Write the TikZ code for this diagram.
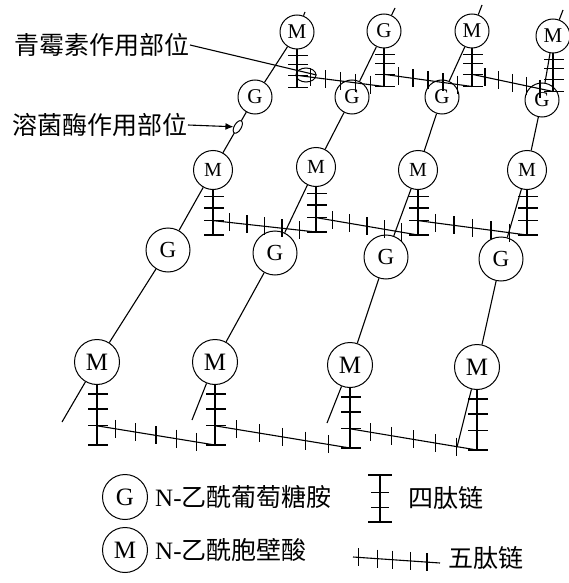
\documentclass[tikz,border=0pt]{standalone}
\usepackage{fontspec}
\setmainfont{Liberation Serif}
\newfontfamily\cjk{Noto Sans CJK SC}
\usetikzlibrary{
  arrows.meta,
  calc,
  positioning,
  shapes.geometric
}
\tikzset{
  % For sugar residues, smaller towards the back.
  sugar/.style={
    draw,
    circle,
    line width=1pt,
    inner sep=0pt},
  far sugar/.style={
    sugar,
    minimum size=34pt,
    font=\fontsize{21}{21}\selectfont},
  mid sugar/.style={
    sugar,
    minimum size=39pt,
    font=\fontsize{20}{20}\selectfont},
  back sugar/.style={
    sugar,
    minimum size=44pt,
    font=\fontsize{23}{23}\selectfont},
  near sugar/.style={
    sugar,
    minimum size=45pt,
    font=\fontsize{25}{25}\selectfont},
%
  % For glycan strands and peptides.
  chain/.style={
    line width=1.1pt},
%
  % For the small marks on the strands.
  site/.style={
    draw,
    ellipse,
    line width=1pt,
    inner sep=0pt},
%
  % For texts.
  site text/.style={
    font=\fontsize{25}{25}\selectfont\cjk,
    inner sep=0pt},
  key text/.style={
    font=\fontsize{25}{25}\selectfont,
    inner sep=0pt},
}

\begin{document}
\begin{tikzpicture}[x=1pt,y=-1pt]
  \useasboundingbox (0,0) rectangle (569,583);

  % Sugars, back row first.
  \node[far sugar] (s11) at (297,32) {M};
  \node[far sugar] (s12) at (384,31) {G};
  \node[far sugar] (s13) at (472,31) {M};
  \node[far sugar] (s14) at (553,36) {M};

  \node[far sugar] (s21) at (255,97) {G};
  \node[far sugar] (s22) at (352,97) {G};
  \node[far sugar] (s23) at (442,97) {G};
  \node[far sugar] (s24) at (542,100) {G};

  \node[mid sugar] (s31) at (213,170) {M};
  \node[mid sugar] (s32) at (316,167) {M};
  \node[mid sugar] (s33) at (418,170) {M};
  \node[mid sugar] (s34) at (527,170) {M};

  \node[back sugar] (s41) at (168,250) {G};
  \node[back sugar] (s42) at (275,253) {G};
  \node[back sugar] (s43) at (386,257) {G};
  \node[back sugar] (s44) at (501,259) {G};

  \node[near sugar] (s51) at (97,362) {M};
  \node[near sugar] (s52) at (215,362) {M};
  \node[near sugar] (s53) at (350,365) {M};
  \node[near sugar] (s54) at (477,367) {M};

  % Loose ends of the strands.
  \coordinate (b1) at (62,422);
  \coordinate (b2) at (192,420);
  \coordinate (b3) at (327,423);
  \coordinate (b4) at (457,447);
  \coordinate (e1) at (305,12);
  \coordinate (e2) at (395,8);
  \coordinate (e3) at (482,5);
  \coordinate (e4) at (563,10);

  \foreach \col in {1,...,4}
    \draw[chain] (b\col) -- (s5\col) -- (s4\col) -- (s3\col)
      -- (s2\col) -- (s1\col) -- (e\col);

  % Tetrapeptides hanging from the M rows.
  \foreach \row/\len in {1/38,3/45,5/60} {
    \foreach \col in {1,...,4} {
      \draw[chain] (s\row\col.south) -- ++(0,\len) coordinate (t\row\col);
      \coordinate (p\row\col) at ($(s\row\col.south)!0.68!(t\row\col)$);
      \foreach \f in {0.15,0.4,0.68,1}
        \draw[chain] ($(s\row\col.south)!\f!(t\row\col)$) +(-9,0) -- +(11,0);
    }
  }

  % Pentapeptide bridges.
  \foreach \row in {1,3,5} {
    \foreach \col/\next in {1/2,2/3,3/4} {
      \draw[chain] (p\row\col) -- (t\row\next);
      \foreach \f in {0.16,0.33,0.5,0.67,0.84}
        \draw[chain] ($(p\row\col)!\f!(t\row\next)$) +(0,-9) -- +(0,9);
    }
  }

  % Where the enzymes act.
  \node[site, minimum width=20pt, minimum height=14pt] (pen) at (306,75) {};
  \node[site, minimum width=7pt, minimum height=14pt, rotate=-30, fill=white]
    (lys) at ($(s31)!0.59!(s21)$) {};

  \node[site text, anchor=east] (penlab) at (190,45) {青霉素作用部位};
  \node[site text, anchor=east] (lyslab) at (188,125) {溶菌酶作用部位};
  \draw[chain] (penlab.east) -- (pen.east);
  \draw[chain, -{Latex[length=8pt,width=7pt]}] (lyslab.east) -- (lys);

  % Key.
  \node[near sugar] (gkey) at (125,497) {G};
  \node[near sugar] (mkey) at (125,550) {M};
  \node[key text, right=7pt of gkey] (gtext) {N-{\cjk 乙酰葡萄糖胺}};
  \node[key text, right=7pt of mkey] (mtext) {N-{\cjk 乙酰胞壁酸}};

  \coordinate (k1) at (380,475);
  \coordinate (k2) at (380,522);
  \draw[chain] (k1) -- (k2);
  \foreach \f/\w in {0/12,0.38/9,0.7/9,1/12}
    \draw[chain] ($(k1)!\f!(k2)$) +(-\w,0) -- +(\w,0);
  \node[key text, anchor=west] (tetra) at (408,498) {\cjk 四肽链};

  \coordinate (k3) at (353,557);
  \coordinate (k4) at (440,563);
  \draw[chain] (k3) -- (k4);
  \foreach \f in {0.06,0.28,0.45,0.66,0.85}
    \draw[chain] ($(k3)!\f!(k4)$) +(0,-9) -- +(0,9);
  \node[key text, anchor=west] (penta) at (448,558) {\cjk 五肽链};
\end{tikzpicture}
\end{document}
